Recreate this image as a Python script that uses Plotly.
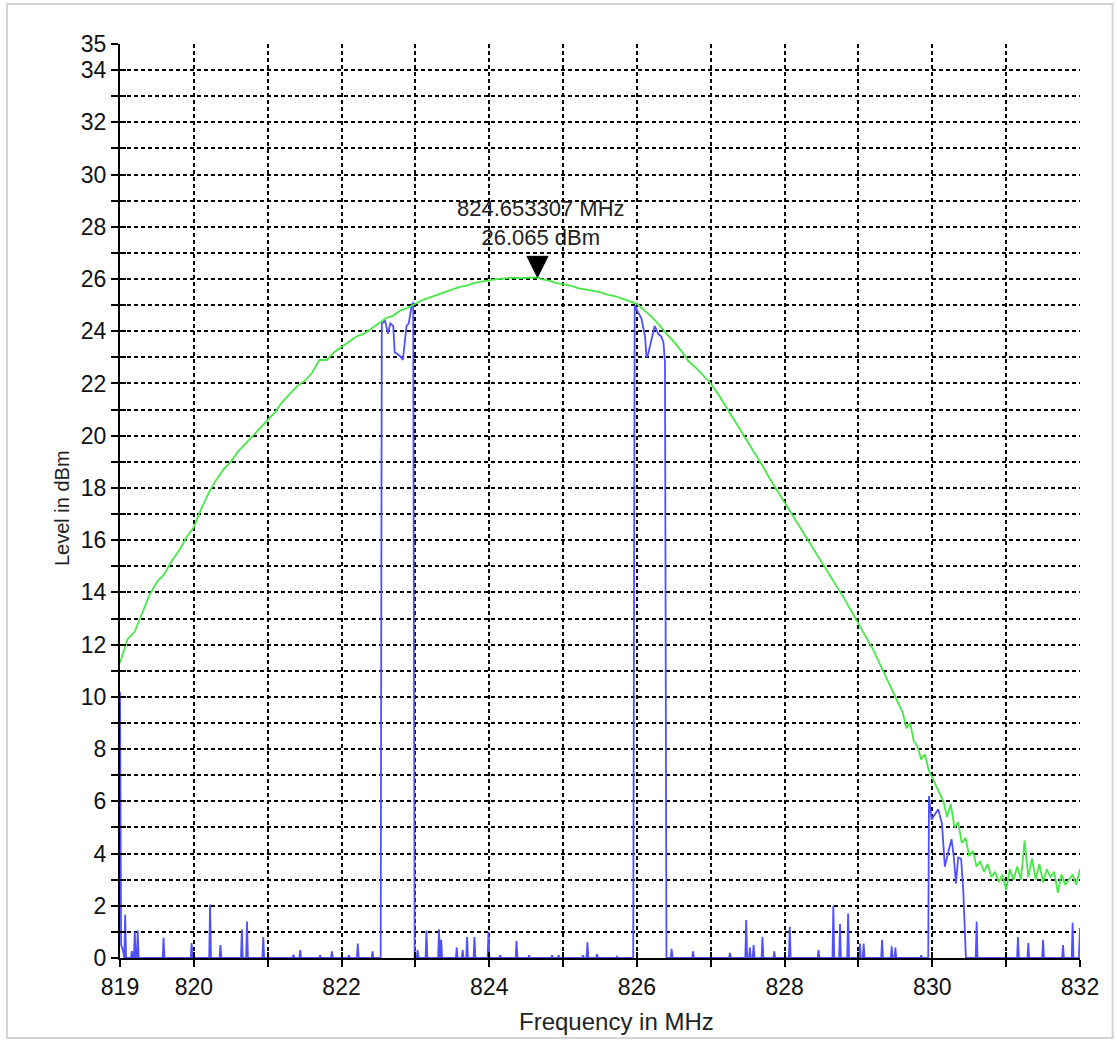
import plotly.graph_objects as go

# Max-hold trace (green), MHz / dBm
green_freq = [
    819.0, 819.1, 819.2, 819.3, 819.4, 819.5, 819.6, 819.7, 819.8, 819.9,
    820.0, 820.1, 820.2, 820.3, 820.4, 820.5, 820.6, 820.7, 820.8, 820.9,
    821.0, 821.1, 821.2, 821.3, 821.4, 821.5, 821.6, 821.7, 821.8, 821.9,
    822.0, 822.1, 822.2, 822.3, 822.4, 822.5, 822.6, 822.7, 822.8, 822.9,
    823.0, 823.1, 823.2, 823.3, 823.4, 823.5, 823.6, 823.7, 823.8, 823.9,
    824.0, 824.1, 824.2, 824.3, 824.4, 824.5, 824.6, 824.653307, 824.7, 824.8, 824.9,
    825.0, 825.1, 825.2, 825.3, 825.4, 825.5, 825.6, 825.7, 825.8, 825.9,
    826.0, 826.1, 826.2, 826.3, 826.4, 826.5, 826.6, 826.7, 826.8, 826.9,
    827.0, 827.1, 827.2, 827.3, 827.4, 827.5, 827.6, 827.7, 827.8, 827.9,
    828.0, 828.1, 828.2, 828.3, 828.4, 828.5, 828.6, 828.7, 828.8, 828.9,
    829.0, 829.1, 829.2, 829.3, 829.4, 829.5, 829.6, 829.65, 829.7, 829.75,
    829.8, 829.85, 829.9, 829.95, 830.0, 830.05, 830.1, 830.15, 830.2, 830.25,
    830.3, 830.35, 830.4, 830.45, 830.5, 830.55, 830.6, 830.65, 830.7, 830.75,
    830.8, 830.85, 830.9, 830.95, 831.0, 831.05, 831.1, 831.15, 831.2, 831.25,
    831.3, 831.35, 831.4, 831.45, 831.5, 831.55, 831.6, 831.65, 831.7, 831.75,
    831.8, 831.85, 831.9, 831.95, 832.0,
]
green_level = [
    11.3, 12.2, 12.5, 13.2, 13.9, 14.4, 14.7, 15.2, 15.6, 16.1,
    16.5, 17.2, 17.8, 18.3, 18.7, 19.0, 19.4, 19.7, 20.0, 20.3,
    20.6, 20.9, 21.3, 21.6, 21.9, 22.1, 22.4, 22.9, 22.9, 23.2,
    23.4, 23.6, 23.8, 23.9, 24.1, 24.3, 24.5, 24.6, 24.8, 24.9,
    25.05, 25.2, 25.3, 25.4, 25.5, 25.6, 25.7, 25.75, 25.85, 25.9,
    25.95, 26.0, 26.02, 26.05, 26.03, 26.04, 26.05, 26.065, 26.0, 25.95, 25.85,
    25.8, 25.75, 25.65, 25.6, 25.55, 25.5, 25.4, 25.35, 25.25, 25.15,
    25.05, 24.8, 24.55, 24.25, 23.9, 23.6, 23.25, 22.85, 22.6, 22.3,
    22.0, 21.6, 21.15, 20.7, 20.25, 19.8, 19.35, 18.85, 18.35, 17.9,
    17.4, 17.0, 16.5, 16.1, 15.6, 15.2, 14.7, 14.25, 13.8, 13.3,
    12.8, 12.3, 11.8, 11.2, 10.6, 10.0, 9.4, 8.8, 9.0, 8.3,
    8.1, 7.6, 7.8, 7.2, 6.9, 6.6, 6.3, 6.0, 5.4, 5.9,
    5.0, 5.2, 4.4, 4.6, 3.9, 4.1, 3.5, 3.7, 3.3, 3.6,
    3.1, 3.3, 2.9, 3.2, 2.6, 3.4, 3.0, 3.5, 3.0, 4.5,
    3.1, 3.8, 3.0, 3.6, 2.9, 3.4, 3.1, 3.3, 2.5, 3.2,
    2.8, 3.0, 3.2, 2.8, 3.4,
]

# Clear-write trace (blue): channel blocks
block_a_freq = [822.53, 822.545, 822.59, 822.63, 822.66, 822.70, 822.72, 822.77,
                822.81, 822.83, 822.86, 822.88, 822.91, 822.95, 822.97, 822.99]
block_a_level = [0.0, 24.3, 24.4, 23.9, 24.3, 24.2, 23.2, 23.1,
                 23.0, 22.9, 23.6, 24.2, 24.3, 25.0, 25.1, 0.0]
block_b_freq = [825.95, 825.97, 826.02, 826.06, 826.11, 826.13, 826.15, 826.20,
                826.24, 826.29, 826.33, 826.36, 826.38, 826.40]
block_b_level = [0.0, 25.0, 24.7, 24.5, 23.8, 23.0, 23.1, 23.7,
                 24.2, 23.9, 23.8, 23.55, 22.8, 0.0]
block_c_freq = [829.945, 829.955, 829.99, 830.04, 830.08, 830.13, 830.17, 830.22,
                830.26, 830.29, 830.32, 830.35, 830.39, 830.42, 830.455]
block_c_level = [0.0, 6.2, 5.3, 5.5, 5.7, 5.15, 3.5, 4.1,
                 4.55, 3.9, 2.85, 3.85, 3.8, 2.55, 0.0]
# Start of sweep
edge_freq = [819.0, 819.015, 819.04]
edge_level = [10.2, 0.5, 0.3]

# Isolated noise spikes above the 0 dBm floor
spike_freq = [
    819.07, 819.16, 819.20, 819.24, 819.59, 819.97, 820.22, 820.36, 820.65, 820.72,
    820.94, 821.35, 821.44, 821.71, 821.87, 822.10, 822.22, 822.42, 823.03, 823.15,
    823.32, 823.35, 823.56, 823.64, 823.70, 823.80, 823.99, 824.15, 824.37, 824.54,
    824.85, 824.94, 825.27, 825.33, 825.46, 825.73, 826.47, 826.76, 827.26, 827.48,
    827.53, 827.58, 827.70, 827.86, 828.07, 828.46, 828.66, 828.75, 828.86, 829.02,
    829.07, 829.32, 829.45, 829.50, 829.85, 830.60, 831.16, 831.30, 831.50, 831.77,
    831.90,
]
spike_level = [
    1.66, 0.26, 1.0, 1.05, 0.77, 0.57, 2.05, 0.5, 1.09, 1.4,
    0.8, 0.13, 0.3, 0.1, 0.25, 0.1, 0.55, 0.25, 0.3, 1.05,
    1.1, 0.7, 0.4, 0.3, 0.8, 0.8, 1.0, 0.1, 0.65, 0.1,
    0.1, 0.1, 0.1, 0.6, 0.15, 0.05, 0.35, 0.25, 0.2, 1.45,
    0.4, 0.5, 0.8, 0.25, 1.2, 0.3, 2.0, 1.3, 1.7, 0.55,
    0.55, 0.7, 0.45, 0.4, 0.1, 1.4, 0.8, 0.57, 0.7, 0.5,
    1.35,
]
end_freq = [831.985, 832.0]
end_level = [0.0, 1.15]

marker_freq = 824.653307
marker_level = 26.065

x_min, x_max = 819, 832
y_min, y_max = 0, 35
x_tick_vals = list(range(819, 833))
x_tick_text = ["819", "820", "", "822", "", "824", "", "826", "", "828", "", "830", "", "832"]
y_tick_vals = list(range(0, 36))
y_tick_text = [str(v) if (v % 2 == 0 or v == 35) else "" for v in y_tick_vals]

# Assemble the blue trace: floor at 0 between features, spikes as narrow peaks
half_w = 0.012
pts = []
pts += list(zip(edge_freq, edge_level))
for f, h in zip(spike_freq, spike_level):
    pts += [(f - half_w, 0.0), (f, h), (f + half_w, 0.0)]
pts += list(zip(block_a_freq, block_a_level))
pts += list(zip(block_b_freq, block_b_level))
pts += list(zip(block_c_freq, block_c_level))
pts += list(zip(end_freq, end_level))
pts.sort(key=lambda p: p[0])
blue_freq = [p[0] for p in pts]
blue_level = [p[1] for p in pts]

FONT = "Liberation Sans, Arial, sans-serif"

fig = go.Figure()
fig.add_trace(go.Scatter(x=blue_freq, y=blue_level, mode="lines",
                         line=dict(color="rgb(80,80,255)", width=1.8),
                         hoverinfo="skip", showlegend=False))
fig.add_trace(go.Scatter(x=green_freq, y=green_level, mode="lines",
                         line=dict(color="rgb(70,232,70)", width=1.8),
                         hoverinfo="skip", showlegend=False))
# empty trace so the overlay axes (inner tick marks) are drawn
fig.add_trace(go.Scatter(x=[None], y=[None], xaxis="x2", yaxis="y2",
                         showlegend=False, hoverinfo="skip"))

grid = dict(showgrid=True, gridcolor="black", gridwidth=1.8, griddash="4px,3px")

fig.update_layout(
    width=1117, height=1040,
    margin=dict(l=120, r=37, t=44, b=82),
    paper_bgcolor="white", plot_bgcolor="white",
    font=dict(family=FONT, size=23, color="#111"),
    xaxis=dict(range=[x_min, x_max], tickvals=x_tick_vals, ticktext=x_tick_text,
               ticks="outside", ticklen=7, tickwidth=2, tickcolor="black",
               showline=True, linecolor="black", linewidth=2, zeroline=False,
               **grid),
    yaxis=dict(range=[y_min, y_max], tickvals=y_tick_vals, ticktext=y_tick_text,
               ticks="outside", ticklen=7, tickwidth=2, tickcolor="black",
               showline=True, linecolor="black", linewidth=2, zeroline=False,
               **grid),
    xaxis2=dict(range=[x_min, x_max], tickvals=x_tick_vals, overlaying="x",
                anchor="y", side="bottom", ticks="inside", ticklen=6, tickwidth=2,
                tickcolor="black", showticklabels=False, showgrid=False,
                zeroline=False, showline=False),
    yaxis2=dict(range=[y_min, y_max], tickvals=y_tick_vals, overlaying="y",
                anchor="x", side="left", ticks="inside", ticklen=6, tickwidth=2,
                tickcolor="black", showticklabels=False, showgrid=False,
                zeroline=False, showline=False),
)

# Peak marker: downward triangle with its tip on the peak
fig.add_shape(type="path", xref="x", yref="y", xsizemode="pixel", ysizemode="pixel",
              xanchor=marker_freq, yanchor=marker_level,
              path="M -10.5 21 L 10.5 21 L 0 0 Z",
              fillcolor="black", line=dict(color="black", width=1))
fig.add_annotation(x=marker_freq, y=marker_level, xref="x", yref="y",
                   text=f"{marker_freq:.6f} MHz<br>{marker_level:.3f} dBm",
                   showarrow=False, yanchor="bottom", xanchor="center", xshift=4, yshift=25,
                   font=dict(size=22, color="#222"))

# Axis titles
fig.add_annotation(x=0.5167, y=-0.0700, xref="paper", yref="paper",
                   text="Frequency in MHz", showarrow=False,
                   xanchor="center", yanchor="middle", font=dict(size=24, color="#222"))
fig.add_annotation(x=-0.0604, y=0.4923, xref="paper", yref="paper",
                   text="Level in dBm", showarrow=False, textangle=-90,
                   xanchor="center", yanchor="middle", font=dict(size=20, color="#222"))

# light frame around the whole chart
fig.add_shape(type="rect", xref="paper", yref="paper",
              x0=-0.1177, x1=1.034, y0=-0.0875, y1=1.0438,
              line=dict(color="#d4d4d4", width=2), layer="below")

fig.write_html("out.html")
